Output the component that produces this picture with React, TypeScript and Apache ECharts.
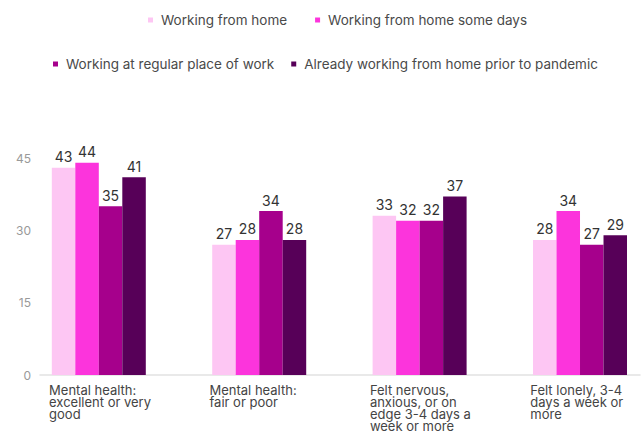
import React, { useEffect, useRef } from "react";
import * as echarts from "echarts";

const categories = [
  "Mental health:\nexcellent or very\ngood",
  "Mental health:\nfair or poor",
  "Felt nervous,\nanxious, or on\nedge 3-4 days a\nweek or more",
  "Felt lonely, 3-4\ndays a week or\nmore",
];
const seriesNames = [
  "Working from home",
  "Working from home some days",
  "Working at regular place of work",
  "Already working from home prior to pandemic",
];
const wfh = [43, 27, 33, 28];
const wfhSome = [44, 28, 32, 34];
const regular = [35, 34, 32, 27];
const already = [41, 28, 37, 29];
const yTicks = [0, 15, 30, 45];

const colors = ["#fdc6f3", "#fc34dc", "#a6008c", "#570058"];
const FONT = "Inter, 'Noto Sans', sans-serif";
const LABEL_SHIFT = 0.31;

export default function App() {
  const ref = useRef<HTMLDivElement>(null);
  useEffect(() => {
    if (!ref.current) return;
    document.body.style.margin = "0";
    const chart = echarts.init(ref.current, undefined, { renderer: "svg" });
    const values = [wfh, wfhSome, regular, already];
    const legendText = { color: "#4a4a4a", fontSize: 13.5, fontFamily: FONT, padding: [0, 0, 0, 3] };
    chart.setOption({
      animation: false,
      textStyle: { fontFamily: FONT },
      legend: [
        {
          data: seriesNames.slice(0, 2),
          top: 8,
          left: 143,
          icon: "rect",
          itemWidth: 5,
          itemHeight: 5,
          itemGap: 28,
          textStyle: legendText,
        },
        {
          data: seriesNames.slice(2),
          top: 52,
          left: 48,
          icon: "rect",
          itemWidth: 5,
          itemHeight: 5,
          itemGap: 17,
          textStyle: legendText,
        },
      ],
      grid: { left: 40, right: 2, top: 158, bottom: 61, containLabel: false },
      xAxis: {
        type: "value",
        min: -0.3666,
        max: 3.374,
        axisLine: { show: true, lineStyle: { color: "#e2e2e2", width: 1.5 } },
        axisTick: { show: false },
        splitLine: { show: false },
        axisLabel: {
          customValues: categories.map((_, i) => i - LABEL_SHIFT),
          formatter: (v: number) => categories[Math.round(v + LABEL_SHIFT)] ?? "",
          align: "left",
          verticalAlign: "top",
          color: "#444",
          fontSize: 13,
          lineHeight: 12,
          margin: 9,
          fontFamily: FONT,
        },
      },
      yAxis: {
        type: "value",
        min: yTicks[0],
        max: yTicks[yTicks.length - 1],
        interval: 15,
        axisLine: { show: false },
        axisTick: { show: false },
        splitLine: { show: false },
        axisLabel: { color: "#999", fontSize: 12, margin: 9, fontFamily: FONT },
      },
      series: seriesNames.map((name, s) => ({
        name,
        type: "bar",
        data: values[s].map((v, i) => [i, v]),
        itemStyle: { color: colors[s] },
        barGap: "0%",
        barCategoryGap: "41.4%",
        label: {
          show: true,
          position: "top",
          distance: 4,
          color: "#333",
          fontSize: 14,
          fontFamily: FONT,
        },
      })),
    });
    return () => chart.dispose();
  }, []);
  return <div ref={ref} style={{ width: 642, height: 436 }} />;
}
